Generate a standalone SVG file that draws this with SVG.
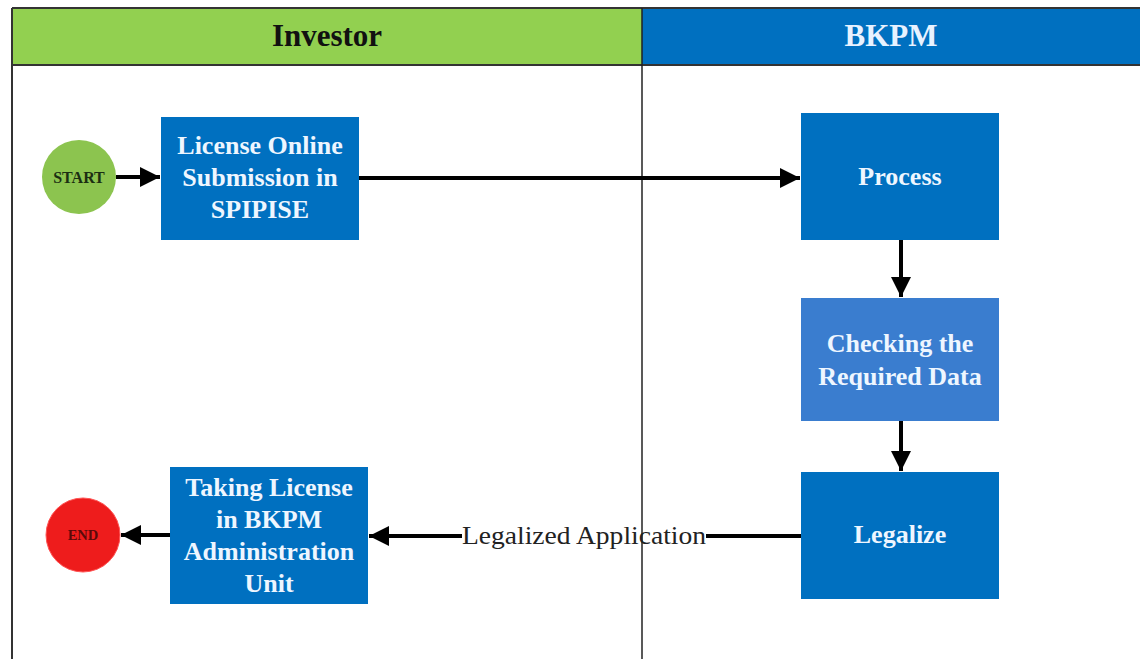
<svg xmlns="http://www.w3.org/2000/svg" width="1140" height="659" viewBox="0 0 1140 659">
<defs>
<style>
.box{fill:#0070c0}
.lbl{font-family:"Liberation Serif","DejaVu Serif",serif;font-weight:bold;font-size:26px;fill:#eef6ff;text-anchor:middle}
.conn{stroke:#000;stroke-width:4;fill:none}
.hdr{font-family:"Liberation Serif","DejaVu Serif",serif;font-weight:bold;font-size:31px;text-anchor:middle}
</style>
<marker id="ah" viewBox="0 0 10 10" refX="10" refY="5" markerWidth="5" markerHeight="5" markerUnits="strokeWidth" orient="auto">
<path d="M0,0 L10,5 L0,10 z" fill="#000"/>
</marker>
</defs>
<rect width="1140" height="659" fill="#fff"/>
<g id="lanes">
<rect x="12" y="8" width="630" height="57" fill="#92d050"/>
<rect x="642" y="8" width="498" height="57" fill="#0070c0"/>
<line x1="12" y1="8" x2="1140" y2="8" stroke="#333" stroke-width="2"/>
<line x1="12" y1="65" x2="1140" y2="65" stroke="#333" stroke-width="2"/>
<line x1="12" y1="8" x2="12" y2="659" stroke="#333" stroke-width="2"/>
<line x1="642" y1="8" x2="642" y2="659" stroke="#222" stroke-width="1.5"/>
<text class="hdr" x="327" y="46" fill="#111">Investor</text>
<text class="hdr" x="891" y="46" fill="#e8f2ff">BKPM</text>
</g>
<g id="connectors">
<line class="conn" x1="116" y1="177" x2="160" y2="177" marker-end="url(#ah)"/>
<line class="conn" x1="359" y1="178" x2="800" y2="178" marker-end="url(#ah)"/>
<line class="conn" x1="901" y1="240" x2="901" y2="297" marker-end="url(#ah)"/>
<line class="conn" x1="901" y1="421" x2="901" y2="471" marker-end="url(#ah)"/>
<line class="conn" x1="801" y1="536" x2="706" y2="536"/>
<line class="conn" x1="462" y1="536" x2="369" y2="536" marker-end="url(#ah)"/>
<line class="conn" x1="170" y1="535" x2="121" y2="535" marker-end="url(#ah)"/>
<text x="584" y="544" font-family="Liberation Serif, DejaVu Serif, serif" font-size="25" fill="#222" text-anchor="middle" textLength="244" lengthAdjust="spacingAndGlyphs">Legalized Application</text>
</g>
<g id="start">
<circle cx="79" cy="177" r="37" fill="#8cc44f"/>
<text x="79" y="183" font-family="Liberation Serif, DejaVu Serif, serif" font-weight="bold" font-size="16" fill="#1b2e12" text-anchor="middle">START</text>
</g>
<g id="submission">
<rect class="box" x="161" y="117" width="198" height="123"/>
<text class="lbl" x="260" y="154">License Online</text>
<text class="lbl" x="260" y="186">Submission in</text>
<text class="lbl" x="260" y="218">SPIPISE</text>
</g>
<g id="process">
<rect class="box" x="801" y="113" width="198" height="127"/>
<text class="lbl" x="900" y="185">Process</text>
</g>
<g id="checking">
<rect x="801" y="298" width="198" height="123" fill="#3a7dcf"/>
<text class="lbl" x="900" y="352">Checking the</text>
<text class="lbl" x="900" y="385">Required Data</text>
</g>
<g id="legalize">
<rect class="box" x="801" y="472" width="198" height="127"/>
<text class="lbl" x="900" y="543">Legalize</text>
</g>
<g id="taking">
<rect class="box" x="170" y="467" width="198" height="137"/>
<text class="lbl" x="269" y="496">Taking License</text>
<text class="lbl" x="269" y="528">in BKPM</text>
<text class="lbl" x="269" y="560">Administration</text>
<text class="lbl" x="269" y="592">Unit</text>
</g>
<g id="end">
<circle cx="83" cy="535" r="37" fill="#ee1c1c" stroke="#f55" stroke-width="1"/>
<text x="83" y="540" font-family="Liberation Serif, DejaVu Serif, serif" font-weight="bold" font-size="14.5" fill="#5a0a0a" text-anchor="middle">END</text>
</g>
</svg>
